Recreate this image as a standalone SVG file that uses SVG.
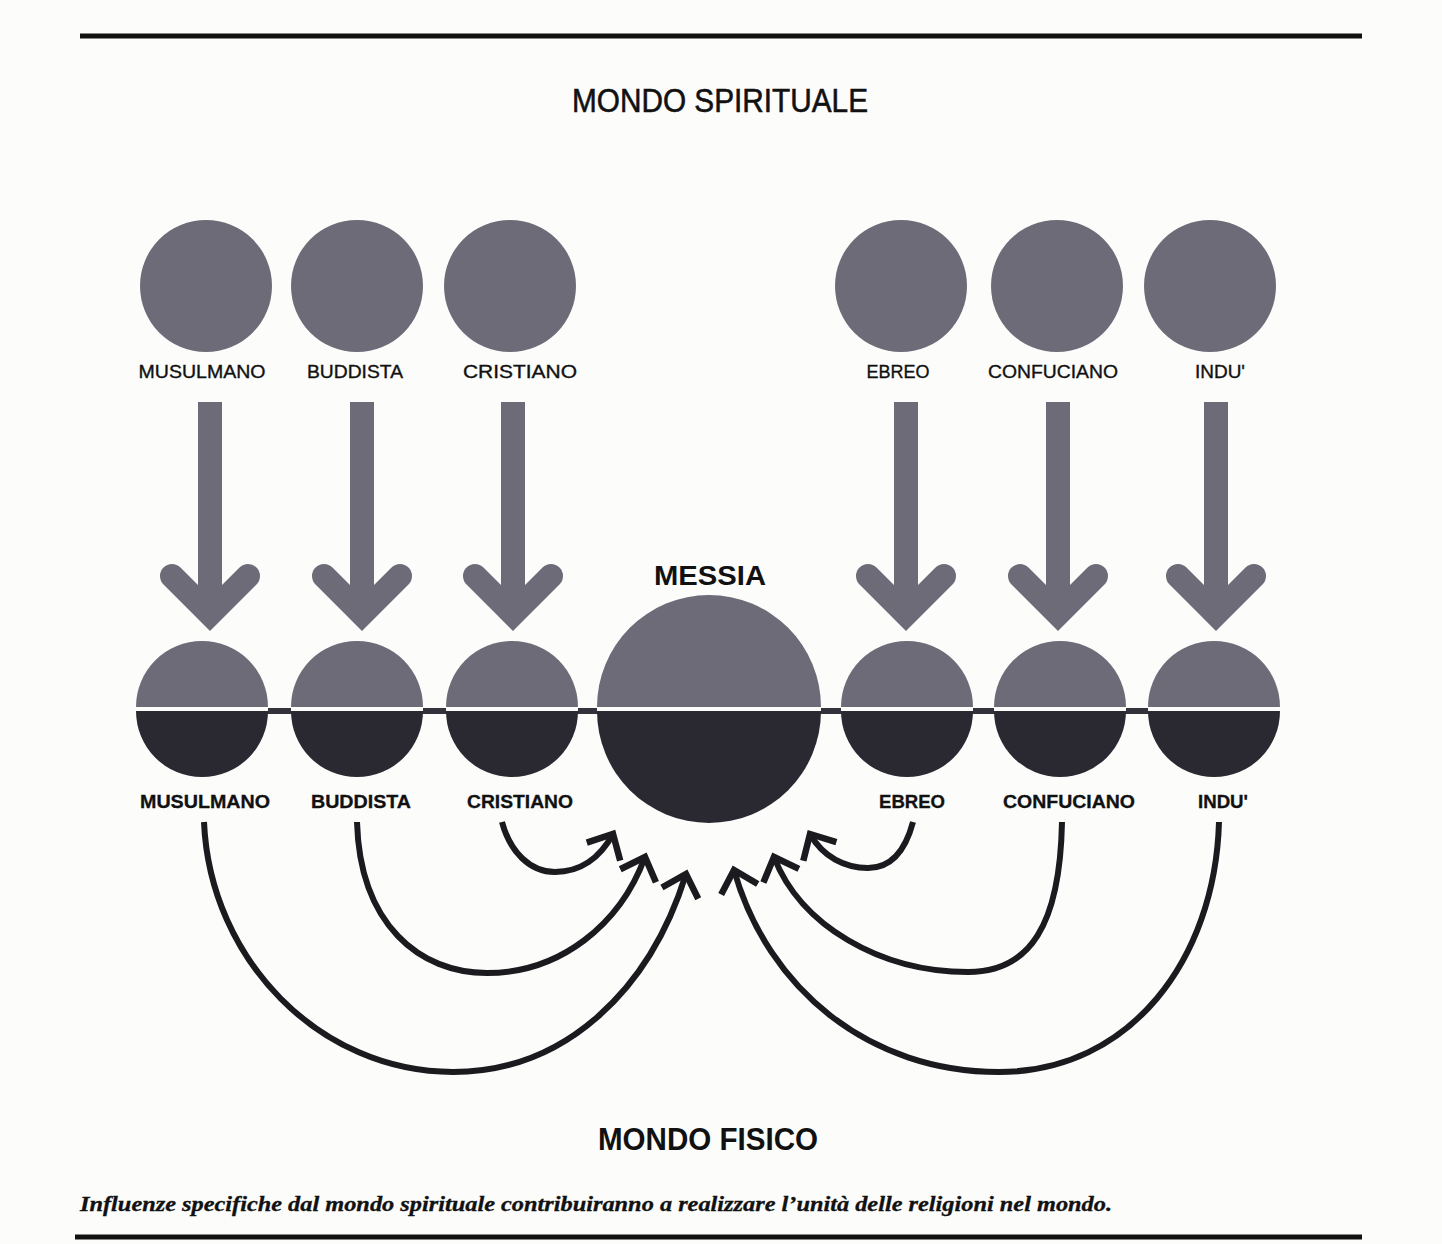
<svg xmlns="http://www.w3.org/2000/svg" width="1442" height="1244" viewBox="0 0 1442 1244">
<style>
.bg{fill:#fcfcfb}
.rule{stroke:#111;stroke-width:5}
.up{fill:#6c6b77}
.dk{fill:#2a2931}
.gap{fill:#fcfcfb}
.shaft{fill:#6c6b77}
.chev{fill:none;stroke:#6c6b77;stroke-width:24;stroke-linecap:round;stroke-linejoin:miter;stroke-miterlimit:4}
.lab1{font-family:"Liberation Sans",Arial,sans-serif;font-size:18px;fill:#111;stroke:#111;stroke-width:0.35;text-anchor:middle}
.lab2{font-family:"Liberation Sans",Arial,sans-serif;font-size:18px;font-weight:bold;fill:#111;stroke:#111;stroke-width:0.3;text-anchor:middle}
.title{font-family:"Liberation Sans",Arial,sans-serif;fill:#111;text-anchor:middle}
.curve{fill:none;stroke:#1a1a1f;stroke-width:6;marker-end:url(#head)}
.cap{font-family:"Liberation Serif","Times New Roman",serif;font-weight:bold;font-style:italic;font-size:20px;fill:#111;stroke:#111;stroke-width:0.3}
</style>
<defs>
<marker id="head" markerUnits="userSpaceOnUse" viewBox="-25 -25 30 50" markerWidth="30" markerHeight="50" refX="0" refY="0" orient="auto" overflow="visible">
<path d="M -20 -19 L 0 0 L -20 19" fill="none" stroke="#1a1a1f" stroke-width="6.5" stroke-linejoin="miter"/>
</marker>
</defs>
<rect class="bg" x="0" y="0" width="1442" height="1244"/>
<line class="rule" x1="80" y1="36" x2="1362" y2="36"/>
<line class="rule" x1="75" y1="1237" x2="1362" y2="1237"/>
<text class="title" x="720" y="112" style="font-size:34px;stroke:#111;stroke-width:0.6" textLength="296" lengthAdjust="spacingAndGlyphs">MONDO SPIRITUALE</text>
<text class="title" x="710" y="585" style="font-size:28px;font-weight:bold" textLength="112" lengthAdjust="spacingAndGlyphs">MESSIA</text>
<text class="title" x="708" y="1150" style="font-size:32px;font-weight:bold" textLength="220" lengthAdjust="spacingAndGlyphs">MONDO FISICO</text>
<text class="cap" x="80" y="1211" textLength="1032" lengthAdjust="spacingAndGlyphs">Influenze specifiche dal mondo spirituale contribuiranno a realizzare l’unità delle religioni nel mondo.</text>

<g id="spirit-nodes">
<g id="s-musulmano"><circle class="up" cx="206" cy="286" r="66"/><text class="lab1" x="202" y="378" textLength="127" lengthAdjust="spacingAndGlyphs">MUSULMANO</text></g>
<g id="s-buddista"><circle class="up" cx="357" cy="286" r="66"/><text class="lab1" x="355" y="378" textLength="96" lengthAdjust="spacingAndGlyphs">BUDDISTA</text></g>
<g id="s-cristiano"><circle class="up" cx="510" cy="286" r="66"/><text class="lab1" x="520" y="378" textLength="114" lengthAdjust="spacingAndGlyphs">CRISTIANO</text></g>
<g id="s-ebreo"><circle class="up" cx="901" cy="286" r="66"/><text class="lab1" x="898" y="378" textLength="63" lengthAdjust="spacingAndGlyphs">EBREO</text></g>
<g id="s-confuciano"><circle class="up" cx="1057" cy="286" r="66"/><text class="lab1" x="1053" y="378" textLength="130" lengthAdjust="spacingAndGlyphs">CONFUCIANO</text></g>
<g id="s-indu"><circle class="up" cx="1210" cy="286" r="66"/><text class="lab1" x="1220" y="378" textLength="50" lengthAdjust="spacingAndGlyphs">INDU'</text></g>
</g>

<g id="connectors">
<line x1="202" y1="711" x2="1214" y2="711" stroke="#34333b" stroke-width="6"/>
<g id="down-arrows">
<rect class="shaft" x="198" y="402" width="24" height="212"/><polyline class="chev" points="172,576 210,614 248,576"/>
<rect class="shaft" x="350" y="402" width="24" height="212"/><polyline class="chev" points="324,576 362,614 400,576"/>
<rect class="shaft" x="501" y="402" width="24" height="212"/><polyline class="chev" points="475,576 513,614 551,576"/>
<rect class="shaft" x="894" y="402" width="24" height="212"/><polyline class="chev" points="868,576 906,614 944,576"/>
<rect class="shaft" x="1046" y="402" width="24" height="212"/><polyline class="chev" points="1020,576 1058,614 1096,576"/>
<rect class="shaft" x="1204" y="402" width="24" height="212"/><polyline class="chev" points="1178,576 1216,614 1254,576"/>
</g>
<g id="curves">
<path class="curve" d="M 204 822 C 210 960, 320 1072, 453 1072 C 565 1072, 650 990, 686 874"/>
<path class="curve" d="M 357 822 C 360 925, 420 973, 487 973 C 560 973, 620 925, 645 857"/>
<path class="curve" d="M 502 822 C 510 852, 530 872, 555 872 C 580 872, 600 858, 613 834"/>
<path class="curve" d="M 913 822 C 905 852, 890 868, 868 868 C 845 868, 823 857, 810 834"/>
<path class="curve" d="M 1062 822 C 1060 925, 1030 972, 968 972 C 880 972, 800 925, 774 857"/>
<path class="curve" d="M 1219 822 C 1215 960, 1130 1072, 999 1072 C 870 1072, 768 990, 734 870"/>
</g>
</g>

<g id="physical-nodes">
<g id="p-musulmano"><path class="up" d="M 136 707 A 66 66 0 0 1 268 707 Z"/><rect class="gap" x="136" y="707" width="132" height="4"/><path class="dk" d="M 136 711 A 66 66 0 0 0 268 711 Z"/><text class="lab2" x="205" y="808" textLength="130" lengthAdjust="spacingAndGlyphs">MUSULMANO</text></g>
<g id="p-buddista"><path class="up" d="M 291 707 A 66 66 0 0 1 423 707 Z"/><rect class="gap" x="291" y="707" width="132" height="4"/><path class="dk" d="M 291 711 A 66 66 0 0 0 423 711 Z"/><text class="lab2" x="361" y="808" textLength="100" lengthAdjust="spacingAndGlyphs">BUDDISTA</text></g>
<g id="p-cristiano"><path class="up" d="M 446 707 A 66 66 0 0 1 578 707 Z"/><rect class="gap" x="446" y="707" width="132" height="4"/><path class="dk" d="M 446 711 A 66 66 0 0 0 578 711 Z"/><text class="lab2" x="520" y="808" textLength="106" lengthAdjust="spacingAndGlyphs">CRISTIANO</text></g>
<g id="p-messia"><path class="up" d="M 597 707 A 112 112 0 0 1 821 707 Z"/><rect class="gap" x="597" y="707" width="224" height="4"/><path class="dk" d="M 597 711 A 112 112 0 0 0 821 711 Z"/></g>
<g id="p-ebreo"><path class="up" d="M 841 707 A 66 66 0 0 1 973 707 Z"/><rect class="gap" x="841" y="707" width="132" height="4"/><path class="dk" d="M 841 711 A 66 66 0 0 0 973 711 Z"/><text class="lab2" x="912" y="808" textLength="66" lengthAdjust="spacingAndGlyphs">EBREO</text></g>
<g id="p-confuciano"><path class="up" d="M 994 707 A 66 66 0 0 1 1126 707 Z"/><rect class="gap" x="994" y="707" width="132" height="4"/><path class="dk" d="M 994 711 A 66 66 0 0 0 1126 711 Z"/><text class="lab2" x="1069" y="808" textLength="132" lengthAdjust="spacingAndGlyphs">CONFUCIANO</text></g>
<g id="p-indu"><path class="up" d="M 1148 707 A 66 66 0 0 1 1280 707 Z"/><rect class="gap" x="1148" y="707" width="132" height="4"/><path class="dk" d="M 1148 711 A 66 66 0 0 0 1280 711 Z"/><text class="lab2" x="1223" y="808" textLength="50" lengthAdjust="spacingAndGlyphs">INDU'</text></g>
</g>
</svg>
